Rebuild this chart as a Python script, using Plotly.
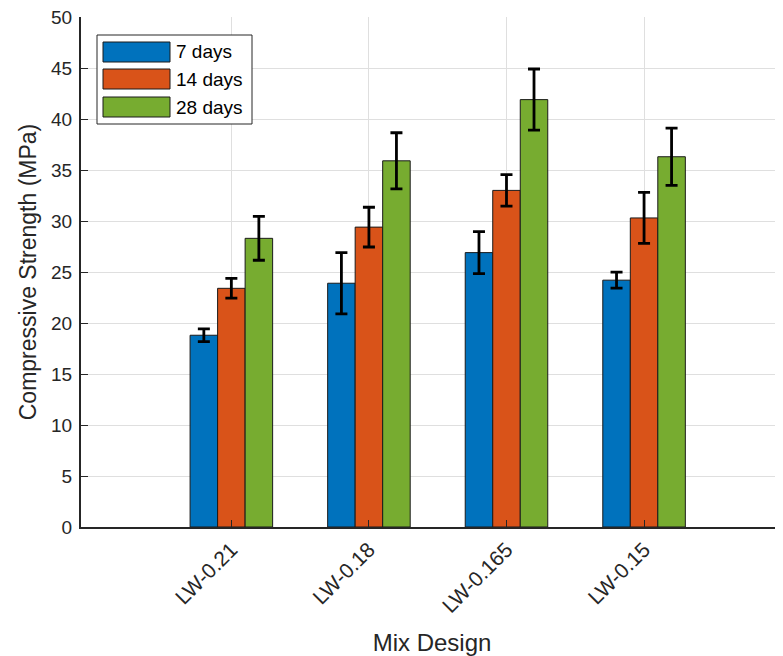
import plotly.graph_objects as go

categories = ["LW-0.21", "LW-0.18", "LW-0.165", "LW-0.15"]
series_names = ["7 days", "14 days", "28 days"]
strength_7 = [18.8, 23.9, 26.9, 24.2]
strength_14 = [23.4, 29.4, 33.0, 30.3]
strength_28 = [28.3, 35.9, 41.9, 36.3]
err_7 = [0.62, 3.0, 2.05, 0.78]
err_14 = [0.97, 1.95, 1.55, 2.5]
err_28 = [2.15, 2.75, 3.0, 2.8]
colors = ["#0072BD", "#D95319", "#77AC30"]

values = [strength_7, strength_14, strength_28]
errors = [err_7, err_14, err_28]

FONT = "Arial, Liberation Sans, Helvetica, sans-serif"
TXT = "#262626"

fig = go.Figure()
for name, v, e, c in zip(series_names, values, errors, colors):
    fig.add_trace(go.Bar(
        x=categories, y=v, name=name, showlegend=False,
        marker=dict(color=c, line=dict(color="#1a1a1a", width=1)),
        error_y=dict(type="data", array=e, visible=True, color="black",
                     thickness=2.8, width=6),
    ))

# The page body has an 8px margin, so the figure starts at (8, 8) on screen.
OFF = 8
W, H = 783 - OFF, 656 - OFF
L, R, T, B = 81 - OFF, 0, 17 - OFF, 656 - 527
pw, ph = W - L - R, H - T - B

def px(x):  # screen pixel -> paper fraction
    return (x - OFF - L) / pw

def py(y):
    return (H - B - (y - OFF)) / ph

shapes = [dict(type="rect", xref="paper", yref="paper",
               x0=px(97), x1=px(252), y0=py(124), y1=py(35),
               fillcolor="white", line=dict(color=TXT, width=1), layer="above")]
annotations = []
sw_tops = [42, 69, 97]
for name, c, top in zip(series_names, colors, sw_tops):
    shapes.append(dict(type="rect", xref="paper", yref="paper",
                       x0=px(103), x1=px(170), y0=py(top + 20), y1=py(top),
                       fillcolor=c, line=dict(color="#1a1a1a", width=1), layer="above"))
    annotations.append(dict(text=name, xref="paper", yref="paper",
                            x=px(174), y=py(top + 10), xanchor="left", yanchor="middle",
                            showarrow=False, font=dict(family=FONT, size=19, color="black")))

fig.update_layout(
    width=W, height=H,
    margin=dict(l=L, r=R, t=T, b=B),
    paper_bgcolor="white", plot_bgcolor="white",
    barmode="group", bargap=0.4, bargroupgap=0,
    font=dict(family=FONT, size=19, color=TXT),
    shapes=shapes, annotations=annotations,
    xaxis=dict(
        range=[-1.093, 4.01], tickangle=-45,
        showgrid=True, gridcolor="#dfdfdf", gridwidth=1,
        showline=True, linecolor=TXT, linewidth=2,
        ticks="inside", ticklen=7, tickcolor=TXT,
        tickfont=dict(size=21, color=TXT),
        title=dict(text="Mix Design", font=dict(size=24, color=TXT), standoff=20),
        zeroline=False,
    ),
    yaxis=dict(
        range=[0, 50], dtick=5,
        showgrid=True, gridcolor="#dfdfdf", gridwidth=1,
        showline=True, linecolor=TXT, linewidth=2,
        ticks="inside", ticklen=7, tickcolor=TXT,
        ticklabelstandoff=3, ticklabeloverflow="allow",
        tickfont=dict(size=19, color=TXT),
        title=dict(text="Compressive Strength (MPa)", font=dict(size=23, color=TXT), standoff=8),
        zeroline=False,
    ),
)

fig.write_html("out.html")
